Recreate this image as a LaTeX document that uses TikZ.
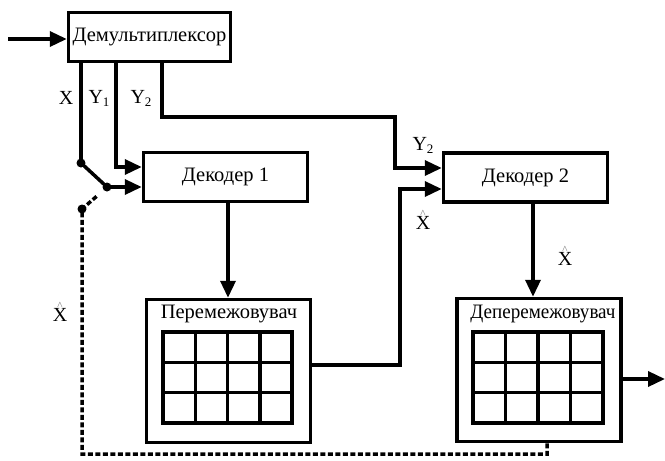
\documentclass[tikz,border=0pt]{standalone}
\usepackage{fontspec}
\setmainfont{Liberation Serif}
\usetikzlibrary{arrows.meta,calc}
\newcommand\Ysub[1]{Y\raisebox{-3pt}{\fontsize{13}{13}\selectfont #1}}
\newcommand\Xhat{{\fontsize{11}{11}\selectfont\textcolor{black!55}{\textasciicircum}}\\[-8.5pt]X}
\newcommand\cellgrid[4]{% x0 y0 x1 y1
  \foreach \i in {0,...,4}{\draw[gridl] ({#1+(#3-#1)*\i/4},#2) -- ({#1+(#3-#1)*\i/4},#4);}
  \foreach \j in {0,...,3}{\draw[gridl] (#1,{#2+(#4-#2)*\j/3}) -- (#3,{#2+(#4-#2)*\j/3});}
  \draw[gridl] (#1,#2) rectangle (#3,#4);}
\begin{document}
\begin{tikzpicture}[x=1pt,y=-1pt,
  box/.style={draw,line width=3.5pt,minimum width=#1,minimum height=49pt,inner sep=0pt,font=\fontsize{20.5}{20.5}\selectfont},
  tall/.style={draw,line width=3.5pt,minimum width=164pt,minimum height=143pt,inner sep=0pt},
  conn/.style={line width=3.5pt},
  arr/.style={line width=3.5pt,-{Triangle[length=17pt,width=15pt]}},
  dsh/.style={line width=3.5pt,dash pattern=on 5pt off 2.5pt},
  lbl/.style={font=\fontsize{20}{20}\selectfont,inner sep=0pt},
  hlbl/.style={font=\fontsize{20}{20}\selectfont,inner sep=0pt,align=center},
  ttl/.style={font=\fontsize{20.5}{20.5}\selectfont,inner sep=0pt},
  gridl/.style={line width=3.5pt,line cap=rect},
  dot/.style={circle,fill,inner sep=0pt,minimum size=9pt}]
\useasboundingbox (0,0) rectangle (665,461);
% boxes
\node[box=162pt] (demux) at (149.5,37) {Демультиплексор};
\node[box=164pt] (dec1) at (225.5,177) {Декодер 1};
\node[box=164pt] (dec2) at (525.5,177.5) {Декодер 2};
\node[tall] (intl) at (228.5,371) {};
\node[tall] (deint) at (539,370) {};
\node[ttl] (intlt) at (229,314) {Перемежовувач};
\node[ttl,xscale=0.93] (deintt) at (543,314) {Деперемежовувач};
% grids
\cellgrid{163}{332}{292}{423}
\cellgrid{473}{332}{603}{423}
% coordinates
\coordinate (in) at (8,39);
\coordinate (sw1) at (81,163);
\coordinate (piv) at (107,187);
\coordinate (sw2) at (82,209);
\coordinate (swe) at (97,196);
\coordinate (out) at (665,379);
% switch dots
\node[dot] (d1) at (sw1) {};
\node[dot] (d2) at (piv) {};
\node[dot] (d3) at (sw2) {};
% connectors
\draw[arr] (in) -- (in -| demux.west);
\draw[conn] (demux.south -| sw1) -- (d1.center);
\draw[conn] (d1.center) -- (d2.center);
\draw[arr] (demux.south -| 116,0) -- (116,167) -- (dec1.west |- 0,167);
\draw[arr] (d2.center) -- (dec1.west |- piv);
\draw[arr] (demux.south -| 162,0) -- (162,117) -- (395,117) -- (395,168) -- (dec2.west |- 0,168);
\draw[arr] (intl.east |- 0,365) -- (400,365) -- (400,189) -- (dec2.west |- 0,189);
\draw[arr] (dec1.south -| 228,0) -- (intl.north -| 228,0);
\draw[arr] (dec2.south -| 533,0) -- (deint.north -| 533,0);
\draw[arr] (deint.east |- out) -- (out);
\draw[dsh] (deint.south -| 547,0) -- (547,454) -- (82,454) -- (d3.center) -- (swe);
% labels
\node[lbl] (lx) at (66,98) {X};
\node[lbl] (ly1) at (99,98) {\Ysub{1}};
\node[lbl] (ly2) at (141,98) {\Ysub{2}};
\node[lbl] (ly2b) at (423,145) {\Ysub{2}};
\node[hlbl] (lxh1) at (423,220) {\Xhat};
\node[hlbl] (lxh2) at (60,312) {\Xhat};
\node[hlbl] (lxh3) at (565,256) {\Xhat};
\end{tikzpicture}
\end{document}
